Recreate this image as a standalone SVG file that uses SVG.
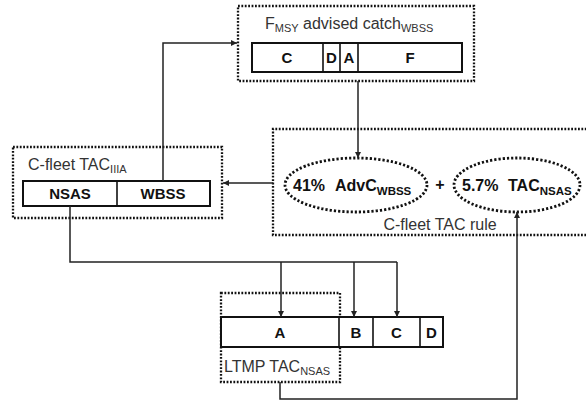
<svg xmlns="http://www.w3.org/2000/svg" width="586" height="402" viewBox="0 0 586 402">
<style>
.dot{fill:none;stroke:#111;stroke-width:2.3;stroke-dasharray:1.8 1.6}
.edot{fill:none;stroke:#111;stroke-width:2.8;stroke-dasharray:2.2 2}
.bar{fill:#fff;stroke:#111;stroke-width:2}
.div{stroke:#111;stroke-width:1.6}
.ln{fill:none;stroke:#222;stroke-width:1.5}
.t{font-family:"Liberation Sans",Arial,sans-serif;font-size:16px;fill:#333}
.b{font-family:"Liberation Sans",Arial,sans-serif;font-size:15px;font-weight:bold;fill:#111;text-anchor:middle}
.bl{font-family:"Liberation Sans",Arial,sans-serif;font-size:16px;font-weight:bold;fill:#111}
.s{font-size:11px}
.sb{font-size:11.5px}
</style>
<defs>
<marker id="ah" viewBox="0 0 10 10" refX="10" refY="5" markerWidth="6" markerHeight="6" markerUnits="userSpaceOnUse" orient="auto">
<path d="M0,0 L10,5 L0,10 z" fill="#222"/>
</marker>
</defs>
<rect width="586" height="402" fill="#fff"/>

<g id="advised-catch">
<rect class="dot" x="238" y="6" width="236" height="75"/>
<text class="t" x="265" y="29">F<tspan class="s" dy="3">MSY</tspan><tspan dy="-3"> advised catch</tspan><tspan class="s" dy="3">WBSS</tspan></text>
<rect class="bar" x="252" y="43" width="210" height="29"/>
<line class="div" x1="323" y1="43" x2="323" y2="72"/>
<line class="div" x1="340" y1="43" x2="340" y2="72"/>
<line class="div" x1="358" y1="43" x2="358" y2="72"/>
<text class="b" x="287" y="63">C</text>
<text class="b" x="331.5" y="63">D</text>
<text class="b" x="349" y="63">A</text>
<text class="b" x="410" y="63">F</text>
</g>

<g id="tac-rule">
<path class="dot" d="M590,129 L273,129 L273,235 L590,235"/>
<text class="t" x="440" y="230" text-anchor="middle">C-fleet TAC rule</text>
<ellipse class="edot" cx="356" cy="185" rx="71" ry="27"/>
<text class="bl" x="293" y="191">41%</text>
<text class="bl" x="335" y="191">AdvC<tspan class="sb" dy="4">WBSS</tspan></text>
<text class="bl" x="440" y="190" text-anchor="middle">+</text>
<ellipse class="edot" cx="517" cy="185" rx="63" ry="27"/>
<text class="bl" x="462" y="191">5.7%</text>
<text class="bl" x="508" y="191">TAC<tspan class="sb" dy="4">NSAS</tspan></text>
</g>

<g id="tac-iiia">
<rect class="dot" x="13" y="147" width="209" height="71"/>
<text class="t" x="28" y="170">C-fleet TAC<tspan class="s" dy="3">IIIA</tspan></text>
<rect class="bar" x="23" y="181" width="187" height="25"/>
<line class="div" x1="117" y1="181" x2="117" y2="206"/>
<text class="b" x="70" y="199">NSAS</text>
<text class="b" x="163" y="199">WBSS</text>
</g>

<g id="ltmp">
<rect class="dot" x="221" y="293" width="119" height="89"/>
<rect class="bar" x="221" y="317" width="222" height="30"/>
<line class="div" x1="339" y1="317" x2="339" y2="347"/>
<line class="div" x1="373" y1="317" x2="373" y2="347"/>
<line class="div" x1="420" y1="317" x2="420" y2="347"/>
<text class="b" x="280" y="338">A</text>
<text class="b" x="356" y="338">B</text>
<text class="b" x="396.5" y="338">C</text>
<text class="b" x="431.5" y="338">D</text>
<text class="t" x="224" y="372">LTMP TAC<tspan class="s" dy="3">NSAS</tspan></text>
</g>

<g id="connectors">
<path class="ln" d="M163,181 L163,43 L237,43" marker-end="url(#ah)"/>
<path class="ln" d="M358,81 L358,158" marker-end="url(#ah)"/>
<path class="ln" d="M273,183 L223,183" marker-end="url(#ah)"/>
<path class="ln" d="M70,206 L70,262 L397,262"/>
<path class="ln" d="M281,262 L281,317" marker-end="url(#ah)"/>
<path class="ln" d="M354,262 L354,317" marker-end="url(#ah)"/>
<path class="ln" d="M397,262 L397,317" marker-end="url(#ah)"/>
<path class="ln" d="M280,382 L280,399 L517,399 L517,212" marker-end="url(#ah)"/>
</g>
</svg>
